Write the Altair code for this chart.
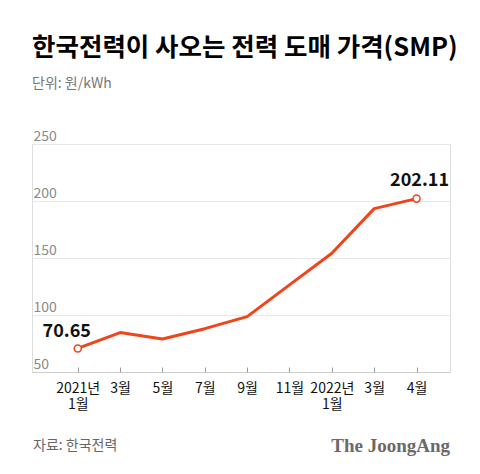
import json
import altair as alt
import pandas as pd

# ---- data ----
months = ["2021년\n1월", "3월", "5월", "7월", "9월", "11월", "2022년\n1월", "3월", "4월"]
smp = [70.65, 84.6, 78.9, 88.0, 98.6, 126.4, 154.1, 193.3, 202.11]
label_text = ["70.65", "", "", "", "", "", "", "", "202.11"]

TITLE = "한국전력이 사오는 전력 도매 가격(SMP)"
SUBTITLE = "단위: 원/kWh"
SOURCE = "자료: 한국전력"
BRAND = "The JoongAng"

FONT = "Noto Sans CJK KR"
RED = "#f0441a"

df = pd.DataFrame({
    "idx": list(range(len(months))),
    "value": smp,
    "label": label_text,
})
df["endpoint"] = df["label"] != ""

label_arrays = [m.split("\n") for m in months]
label_expr = json.dumps(label_arrays, ensure_ascii=False) + "[datum.value]"

W, H = 418, 228

x_enc = alt.X(
    "idx:Q",
    scale=alt.Scale(domain=[-1.08, 8.79], nice=False, zero=False),
    axis=alt.Axis(
        values=list(range(len(months))),
        labelExpr=label_expr,
        title=None,
        grid=False,
        domain=False,
        ticks=True,
        tickSize=5,
        tickColor="#9a9a9a",
        offset=-5,
        labelPadding=9,
        labelFontSize=14,
        labelColor="#111111",
        labelFont=FONT,
        labelLineHeight=16,
        labelOverlap=False,
        labelFlush=False,
        labelBound=False,
    ),
)
y_enc = alt.Y(
    "value:Q",
    scale=alt.Scale(domain=[50, 250], nice=False, zero=False),
    axis=alt.Axis(
        values=[50, 100, 150, 200, 250],
        title=None,
        domain=False,
        ticks=False,
        tickSize=0,
        labelAlign="left",
        labelBaseline="alphabetic",
        labelPadding=-1,
        labelOffset=-4,
        labelFontSize=14,
        labelColor="#8a8a8a",
        labelFont=FONT,
        labelOverlap=False,
        labelFlush=False,
        gridColor={"condition": {"test": "datum.value == 50", "value": "#cccccc"}, "value": "#e8e8e8"},
        gridWidth=1,
    ),
)

base = alt.Chart(df)

line = base.mark_line(color=RED, strokeWidth=3, strokeJoin="round").encode(x=x_enc, y=y_enc)

pts = base.transform_filter("datum.endpoint").mark_point(
    shape="circle", filled=True, fill="white", stroke=RED, strokeWidth=1.5, size=50, opacity=1
).encode(x="idx:Q", y="value:Q")

first_lbl = base.transform_filter("datum.idx == 0").mark_text(
    font=FONT, fontSize=18, fontWeight="bold", color="#111111",
    align="center", baseline="alphabetic", dx=-11, dy=-11
).encode(x="idx:Q", y="value:Q", text="label:N")

last_lbl = base.transform_filter("datum.idx == 8").mark_text(
    font=FONT, fontSize=18, fontWeight="bold", color="#111111",
    align="center", baseline="alphabetic", dx=3, dy=-13
).encode(x="idx:Q", y="value:Q", text="label:N")

src = alt.Chart(pd.DataFrame({"t": [SOURCE]})).mark_text(
    font=FONT, fontSize=14, color="#666666", align="left", baseline="middle"
).encode(x=alt.value(1), y=alt.value(302), text="t:N")

brand = alt.Chart(pd.DataFrame({"t": [BRAND]})).mark_text(
    font="Liberation Serif", fontSize=19, fontWeight="bold", color="#6a6a6a",
    align="right", baseline="middle"
).encode(x=alt.value(W), y=alt.value(302), text="t:N")

chart = alt.layer(line, pts, first_lbl, last_lbl, src, brand).properties(
    width=W,
    height=H,
    title=alt.TitleParams(
        text=TITLE,
        subtitle=SUBTITLE,
        anchor="start",
        frame="group",
        font=FONT,
        fontSize=25.5,
        fontWeight="bold",
        color="#000000",
        subtitleFont=FONT,
        subtitleFontSize=14,
        subtitleColor="#777777",
        subtitlePadding=16,
        offset=38,
    ),
    autosize=alt.AutoSizeParams(type="none"),
    padding={"left": 24, "top": 136, "right": 22, "bottom": 92},
).configure_view(stroke=None).configure(background="white")

chart.save("out.html", embed_options={"renderer": "svg", "actions": False})
